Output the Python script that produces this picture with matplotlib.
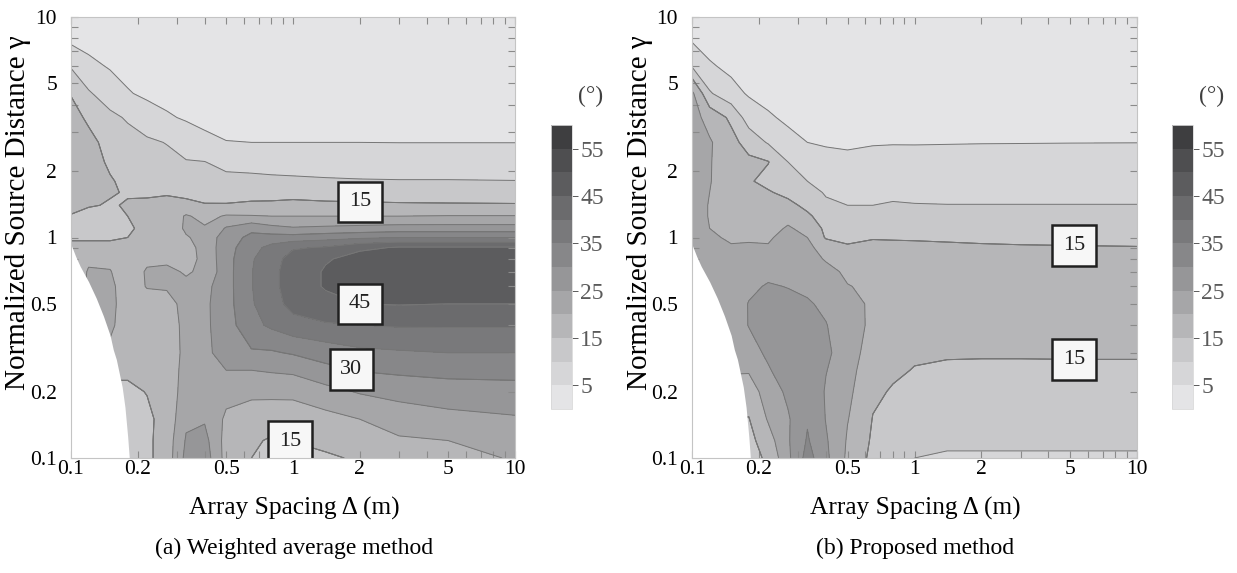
import numpy as np
import matplotlib
matplotlib.use("Agg")
import matplotlib.pyplot as plt
from matplotlib.ticker import NullFormatter

plt.rcParams['font.family'] = ['Liberation Serif', 'DejaVu Serif']

# ---------------- data ----------------
delta = [0.1, 0.12, 0.15, 0.18, 0.22, 0.27, 0.33, 0.4, 0.5, 0.65, 0.8, 1.0, 1.4, 2.0, 3.0, 5.0, 10.0]
gamma = [0.1, 0.12, 0.15, 0.2, 0.25, 0.3, 0.4, 0.5, 0.6, 0.7, 0.8, 0.9, 1.0, 1.1, 1.25,
         1.4, 1.6, 1.8, 2.2, 2.7, 3.5, 4.5, 6.0, 7.5, 10.0]

# one list per delta column, values for gamma ascending (degrees).
# Points under the white (no-result) area carry the value of the nearest shown cell.
err_weighted_cols = [
    [16]*12 + [14.5, 12.5, 14.8, 16, 17, 17.5, 18, 18, 17, 14.7, 9.5, 5, 3],
    [21]*8 + [21, 20.5, 19, 17, 14, 12.5, 13, 15.5, 16.5, 17, 17.5, 16.5, 14, 10.5, 6.2, 3.8, 2.8],
    [14, 14, 14, 14, 16, 19, 21, 21.5, 21, 20.2, 19, 17, 14, 12.5, 12.5, 14.5, 15.5, 15.5, 14, 13, 11, 7.5, 4.5, 3.2, 2.5],
    [12.5, 12.5, 13, 14, 16, 16.5, 17, 17, 17.5, 17.5, 17, 16, 15, 14, 15, 15.5, 14.5, 13.5, 12.5, 11.5, 9.5, 5.3, 3.6, 2.8, 2.3],
    [14, 14, 14, 15.2, 16, 16.5, 17, 18, 20.3, 20.5, 19, 17.5, 17, 17, 16.5, 16, 14.2, 13, 12, 10.8, 6.8, 4.2, 3, 2.5, 2.2],
    [17.5, 17.5, 17, 17, 17, 17, 17.5, 18.5, 20.5, 21, 19, 16, 16, 16, 17, 18.5, 13.8, 12.5, 11.3, 9.8, 5.5, 3.5, 2.7, 2.3, 2.1],
    [26.5, 25.5, 24, 22.5, 22, 21.5, 21.5, 21.5, 21, 19.5, 18, 18, 19.5, 21, 20.5, 16.5, 13.5, 12, 10.3, 7.5, 4.5, 3.1, 2.5, 2.2, 2],
    [27.5, 26.5, 24.5, 23.5, 24, 24, 24, 24, 23.5, 21, 21.5, 22, 22, 20.5, 18.5, 15.3, 13.3, 11.7, 10.1, 6, 3.8, 2.9, 2.4, 2.1, 2],
    [18, 18, 19, 22, 25, 27, 28, 28.3, 28.3, 28.3, 28.3, 28, 27.5, 25.5, 20.5, 15.3, 13.2, 11.5, 8.3, 5.1, 3.6, 2.8, 2.3, 2.1, 2],
    [15, 15.5, 17, 21.5, 25, 29.5, 33.5, 34.5, 34.8, 34.8, 34.5, 33.5, 31.5, 28.5, 20.3, 15.8, 13.2, 11.3, 8, 5, 3.5, 2.7, 2.3, 2.1, 2],
    [12.5, 14.6, 16.8, 21.5, 25.5, 29.5, 36, 38.3, 38.8, 38.8, 38.3, 36.5, 32, 26.5, 20, 16, 13, 11, 7.8, 5, 3.5, 2.7, 2.3, 2.1, 2],
    [13, 15.2, 17, 21.5, 26, 30.5, 38.5, 41.5, 42.3, 42.3, 41.8, 39.5, 32, 25.5, 20, 16.5, 13, 10.8, 7.7, 5, 3.5, 2.7, 2.3, 2.1, 2],
    [14.5, 16, 18.5, 23.5, 28.5, 32.5, 39.5, 43.5, 45.5, 45.5, 44.5, 40.5, 33, 26, 20, 16, 12.8, 10.5, 7.6, 5, 3.5, 2.7, 2.3, 2.1, 2],
    [15.5, 17, 20, 25.5, 30.3, 34, 40, 45, 47.5, 48, 47, 44, 34, 26.5, 20, 15.8, 12.7, 10.3, 7.5, 5, 3.6, 2.8, 2.3, 2.1, 2],
    [17, 19.5, 22, 27, 31, 34.5, 40.5, 45.3, 48.5, 49, 48, 45.5, 35, 27, 20, 15.6, 12.6, 10.2, 7.5, 4.95, 3.7, 2.9, 2.4, 2.1, 2],
    [18.5, 20, 23.5, 28, 31.5, 35, 40.5, 45, 48, 49, 48.5, 45.5, 35, 27, 20.2, 15.5, 12.5, 10.2, 7.5, 4.95, 3.8, 3, 2.5, 2.2, 2],
    [20.5, 21.5, 24.5, 28.5, 31.5, 35, 40.5, 45, 48, 49, 48.5, 45.5, 35, 27, 20.2, 15.4, 12.4, 10.1, 7.4, 4.95, 3.8, 3, 2.5, 2.2, 2],
]

err_proposed_cols = [
    [21]*12 + [21, 21.5, 21.5, 21.5, 21.5, 21.5, 21.5, 22, 22, 21, 9.5, 5.2, 2.5],
    [22]*8 + [22, 22.5, 22.5, 22, 20.5, 20, 19.8, 19.8, 20, 20.2, 20.3, 20.5, 18, 10.5, 5.5, 3.5, 2.3],
    [14, 14, 15, 18, 20.5, 21.5, 22, 22.5, 22.5, 22, 21.5, 20.3, 19.5, 18.5, 18, 17.5, 17.5, 17.5, 17, 16.5, 14, 6.5, 3.8, 2.8, 2.2],
    [13, 13.5, 14.8, 17.5, 20.5, 23, 25.2, 25.2, 24, 22.5, 21.5, 20.5, 19.5, 18.5, 17.5, 17, 16.5, 15.5, 16, 13, 7.5, 4.5, 3, 2.4, 2.1],
    [16, 18, 20.5, 22.5, 24.5, 26, 27.5, 27.5, 25.5, 23.5, 21.5, 20.3, 19.5, 18.5, 17.5, 17.5, 15.5, 13.5, 15.2, 9.5, 5.5, 3.6, 2.6, 2.2, 2],
    [24, 24.5, 24.5, 26, 28, 28.5, 28, 26.5, 24.8, 24, 23, 22, 21.5, 20.5, 18.5, 16.5, 13.5, 12, 10, 6.2, 4.2, 3.1, 2.4, 2.1, 2],
    [32, 30.5, 29.5, 29, 28.5, 28.5, 28, 25.5, 24, 23, 22, 21, 20, 18.5, 16, 13.5, 11.5, 10, 7.5, 5, 3.6, 2.8, 2.3, 2.1, 2],
    [26, 25.5, 24.8, 24.5, 25.2, 26, 25.2, 24, 23, 21.5, 19.5, 18, 14.5, 13.8, 12, 10.7, 9.6, 8.5, 6.5, 4.5, 3.3, 2.6, 2.2, 2.1, 2],
    [19, 19.5, 20.2, 21, 21.5, 22, 22, 21.3, 20.2, 19, 17, 15.5, 14, 13, 11.5, 10, 8.8, 7.8, 6, 4.3, 3.1, 2.5, 2.2, 2.1, 2],
    [13.5, 14.2, 14.8, 16, 17, 17.8, 19, 19.3, 19, 18.5, 17.5, 16.5, 14.6, 13.3, 11.8, 10, 9, 7.8, 6.3, 4.7, 3.3, 2.6, 2.3, 2.1, 2],
    [11, 12.5, 13.5, 14.5, 16, 17, 18, 18.3, 18.3, 18, 17.5, 16.3, 14.5, 13.3, 12, 10.4, 9, 7.8, 6.3, 4.8, 3.4, 2.7, 2.3, 2.1, 2],
    [10, 11.5, 12.8, 14, 14.7, 16, 17.5, 18, 18, 17.8, 17.3, 16, 14.5, 13.3, 12, 10.2, 8.8, 7.7, 6.2, 4.8, 3.4, 2.7, 2.3, 2.1, 2],
    [9.5, 10.8, 12.3, 13.5, 14.3, 15.5, 17.3, 17.8, 17.8, 17.6, 17, 15.8, 14.3, 13.2, 11.8, 10.1, 8.7, 7.7, 6.2, 4.85, 3.4, 2.7, 2.3, 2.1, 2],
    [9.5, 10.8, 12.2, 13.4, 14.3, 15.4, 17.2, 17.7, 17.7, 17.5, 16.8, 15.5, 14.2, 13.1, 11.7, 10.1, 8.7, 7.7, 6.2, 4.9, 3.4, 2.7, 2.3, 2.1, 2],
    [9.5, 10.8, 12.2, 13.4, 14.3, 15.4, 17.2, 17.7, 17.7, 17.5, 16.8, 15.3, 14.2, 13.1, 11.7, 10.1, 8.7, 7.7, 6.2, 4.92, 3.4, 2.7, 2.3, 2.1, 2],
    [9.5, 10.8, 12.2, 13.4, 14.4, 15.4, 17.2, 17.7, 17.7, 17.5, 16.8, 15.2, 14.2, 13.1, 11.7, 10.1, 8.7, 7.7, 6.2, 4.95, 3.4, 2.7, 2.3, 2.1, 2],
    [9.5, 10.8, 12.2, 13.4, 14.4, 15.4, 17.2, 17.7, 17.7, 17.5, 16.8, 15.1, 14.2, 13.1, 11.7, 10.1, 8.7, 7.7, 6.2, 4.97, 3.4, 2.7, 2.3, 2.1, 2],
]

# edge of the region where no result is shown (white area, lower left)
edge_delta = [0.1, 0.105, 0.11, 0.12, 0.13, 0.14, 0.15, 0.155, 0.16, 0.17, 0.175, 0.18, 0.183]
edge_gamma = [0.93, 0.82, 0.74, 0.63, 0.53, 0.44, 0.36, 0.31, 0.28, 0.21, 0.17, 0.125, 0.1]

levels = [0, 5, 10, 15, 20, 25, 30, 35, 40, 45, 50, 55, 60]
cbar_ticks = [5, 15, 25, 35, 45, 55]
axis_ticks = [0.1, 0.2, 0.5, 1, 2, 5, 10]
axis_ticklabels = ['0.1', '0.2', '0.5', '1', '2', '5', '10']
minor_ticks = [0.3, 0.4, 0.6, 0.7, 0.8, 0.9, 3, 4, 6, 7, 8, 9]
# inline contour labels: (delta, gamma, level)
labels_weighted = [(2.0, 1.45, 15), (2.0, 0.5, 45), (1.8, 0.235, 30), (0.97, 0.118, 15)]
labels_proposed = [(5.2, 0.89, 15), (5.2, 0.28, 15)]
captions = ['(a) Weighted average method', '(b) Proposed method']

band_colors = ['#e4e4e6', '#d6d6d8', '#c8c8ca', '#b6b6b8', '#a6a6a8', '#969698',
               '#878789', '#79797b', '#6b6b6d', '#5c5c5e', '#4e4e50', '#3e3e40']

# ---------------- figure ----------------
W, H = 1237, 573
fig = plt.figure(figsize=(W / 100, H / 100), dpi=100)


def rect(x0, y0, x1, y1):
    return [x0 / W, 1 - y1 / H, (x1 - x0) / W, (y1 - y0) / H]


panels = [
    dict(cols=err_weighted_cols, ax=(71, 17, 515, 458), cax=(551, 125, 572, 409),
         unit=(591, 96), lab=labels_weighted, cx=294, cap=captions[0], ylx=18),
    dict(cols=err_proposed_cols, ax=(692, 17, 1137, 458), cax=(1172, 125, 1193, 409),
         unit=(1212, 96), lab=labels_proposed, cx=915, cap=captions[1], ylx=640),
]

D, G = np.meshgrid(delta, gamma)
line_kw = dict(colors='#767676', linewidths=0.7)

for p in panels:
    ax = fig.add_axes(rect(*p['ax']))
    Z = np.array(p['cols'], dtype=float).T
    cf = ax.contourf(D, G, Z, levels=levels, colors=band_colors, zorder=1)
    ax.contour(D, G, Z, levels=levels[1:-1], zorder=2, **line_kw)
    ax.fill_between(edge_delta, 0.09, edge_gamma, color='white', lw=0, zorder=3)
    ax.set_xscale('log')
    ax.set_yscale('log')
    ax.set_xlim(0.1, 10)
    ax.set_ylim(0.1, 10)

    for (lx, ly, lev) in p['lab']:
        cl = ax.contour(D, G, Z, levels=[lev], zorder=2, **line_kw)
        txts = ax.clabel(cl, manual=[(lx, ly)], inline=False, fmt='%d',
                         fontsize=16, colors='#202020')
        for t in txts:
            t.set_rotation(0)
            t.set_zorder(6)
            t.set_bbox(dict(boxstyle='square,pad=0.48', facecolor='#f7f7f7',
                            edgecolor='#202020', linewidth=1.8))

    ax.set_xticks(axis_ticks, axis_ticklabels)
    ax.set_yticks(axis_ticks, axis_ticklabels)
    ax.set_xticks(minor_ticks, minor=True)
    ax.set_yticks(minor_ticks, minor=True)
    ax.xaxis.set_minor_formatter(NullFormatter())
    ax.yaxis.set_minor_formatter(NullFormatter())
    ax.tick_params(which='both', direction='in', top=True, right=True, length=5,
                   width=0.8, color='#8a8a8a', labelsize=15.5, zorder=7)
    ax.tick_params(axis='x', pad=1.5)
    ax.tick_params(axis='y', pad=10)
    for s in ax.spines.values():
        s.set_edgecolor('#c4c4c4')
        s.set_linewidth(0.8)
        s.set_zorder(8)

    cax = fig.add_axes(rect(*p['cax']))
    cb = fig.colorbar(cf, cax=cax, ticks=cbar_ticks)
    cb.outline.set_edgecolor('#d8d8d8')
    cb.outline.set_linewidth(0.6)
    cb.ax.tick_params(labelsize=17, colors='#5a5a5a', length=4, width=0.7, pad=2)

    fig.text(p['unit'][0] / W, 1 - p['unit'][1] / H, '(°)', fontsize=17,
             color='#404040', ha='center', va='center')
    fig.text(p['cx'] / W, 1 - 508 / H, 'Array Spacing Δ (m)', fontsize=18.3,
             ha='center', va='center')
    fig.text(p['cx'] / W, 1 - 548 / H, p['cap'], fontsize=17,
             ha='center', va='center')
    fig.text(p['ylx'] / W, 1 - 213 / H, 'Normalized Source Distance γ', fontsize=21,
             rotation=90, ha='center', va='center')

fig.savefig('out.png', dpi=100, facecolor='white')
